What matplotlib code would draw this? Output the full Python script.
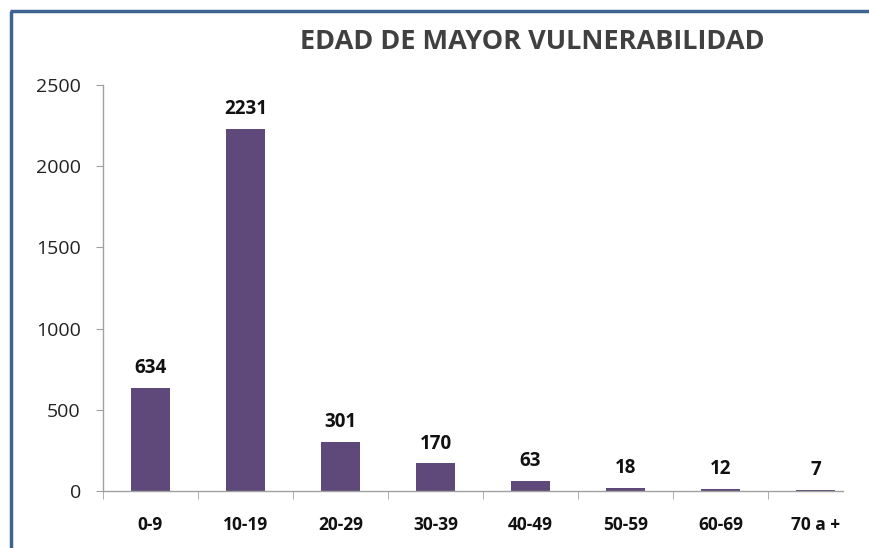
import numpy as np
import matplotlib.pyplot as plt
from matplotlib.lines import Line2D

categorias = ['0-9', '10-19', '20-29', '30-39', '40-49', '50-59', '60-69', '70 a +']
casos = [634, 2231, 301, 170, 63, 18, 12, 7]
y_ticks = [0, 500, 1000, 1500, 2000, 2500]

plt.rcParams['font.family'] = ['Open Sans', 'DejaVu Sans']

fig = plt.figure(figsize=(8.7, 5.48), dpi=100)
# el área de categorías sigue más allá del borde visible del eje
ax = fig.add_axes([103 / 870, 1 - 491 / 548, 760 / 870, 406 / 548])

x = np.arange(len(categorias))
ax.bar(x, casos, width=0.41, color='#5F497A', zorder=2)

for xi, v in zip(x, casos):
    ax.annotate(str(v), (xi, v), xytext=(0, 7), textcoords='offset points',
                ha='center', va='bottom', fontsize=13.5, fontweight='bold', color='#111111')

ax.set_xlim(-0.5, len(categorias) - 0.5)
ax.set_ylim(0, 2500)
ax.set_yticks(y_ticks)
ax.set_yticklabels([str(t) for t in y_ticks], fontsize=14, color='#222222')
ax.tick_params(axis='y', length=5, color='#A0A0A0', pad=11)

ax.set_xticks(x)
ax.set_xticklabels(categorias, fontsize=12.5, fontweight='bold', color='#111111')
ax.set_xticks(np.arange(len(categorias)) - 0.5, minor=True)
ax.tick_params(axis='x', which='major', length=0, pad=18)
ax.tick_params(axis='x', which='minor', length=6, color='#A0A0A0')

for s in ['top', 'right']:
    ax.spines[s].set_visible(False)
for s in ['left', 'bottom']:
    ax.spines[s].set_color('#A0A0A0')
    ax.spines[s].set_linewidth(1)
ax.spines['bottom'].set_bounds(-0.5, len(categorias) - 0.5 - 20 / 95)

fig.text(532 / 870, 1 - 42 / 548, 'EDAD DE MAYOR VULNERABILIDAD', ha='center', va='center',
         fontsize=19.5, fontweight='bold', color='#404040')

# marco azul (izquierda y arriba)
fig.add_artist(Line2D([11.5 / 870, 11.5 / 870], [0, 1 - 10.5 / 548], transform=fig.transFigure,
                      color='#3F6494', linewidth=2.5, solid_capstyle='butt'))
fig.add_artist(Line2D([10 / 870, 1], [1 - 10.5 / 548, 1 - 10.5 / 548], transform=fig.transFigure,
                      color='#3F6494', linewidth=2.5, solid_capstyle='butt'))

plt.savefig('out.png', dpi=100)
